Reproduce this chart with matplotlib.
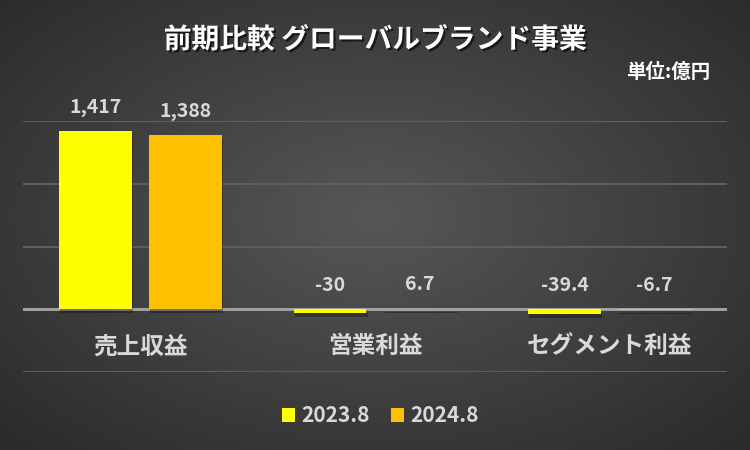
import numpy as np
import matplotlib
matplotlib.use("Agg")
import matplotlib.pyplot as plt
import matplotlib.patheffects as pe

plt.rcParams['font.family'] = ['Noto Sans CJK JP', 'DejaVu Sans']

# data
categories = ['売上収益', '営業利益', 'セグメント利益']
series_names = ['2023.8', '2024.8']
values_2023 = [1417, -30, -39.4]
values_2024 = [1388, 6.7, -6.7]
value_labels_2023 = ['1,417', '-30', '-39.4']
value_labels_2024 = ['1,388', '6.7', '-6.7']

YELLOW = '#FFFF00'
ORANGE = '#FFC000'
TEXT = '#D9D9D9'

fig = plt.figure(figsize=(7.5, 4.5), dpi=100)

# radial gradient background
bg = fig.add_axes([0, 0, 1, 1], zorder=-10)
gx, gy = np.meshgrid(np.linspace(0, 1, 375), np.linspace(0, 1, 225))
d = np.sqrt(((gx - 0.5) / 0.5) ** 2 + ((gy - 0.52) / 0.52) ** 2) / np.sqrt(2)
d = np.clip(d, 0, 1)
c_in, c_out = 0x57 / 255, 0x2a / 255
shade = c_in + (c_out - c_in) * d
bg.imshow(np.dstack([shade, shade, shade]), extent=[0, 1, 0, 1], aspect='auto', origin='lower')
bg.axis('off')

ax = fig.add_axes([0.031, 0.173, 0.938, 0.558])
ax.set_facecolor('none')

x = np.arange(len(categories))
w = 0.311
off = 0.192
shadow = [pe.SimplePatchShadow(offset=(1, -2.5), shadow_rgbFace='black', alpha=0.3), pe.Normal()]
b1 = ax.bar(x - off, values_2023, w, color=YELLOW, label=series_names[0], zorder=3, path_effects=shadow)
b2 = ax.bar(x + off, values_2024, w, color=ORANGE, label=series_names[1], zorder=3, path_effects=shadow)

for bars, labels in ((b1, value_labels_2023), (b2, value_labels_2024)):
    for rect, lab in zip(bars, labels):
        top = max(rect.get_y() + rect.get_height(), rect.get_y(), 0)
        ax.annotate(lab, (rect.get_x() + rect.get_width() / 2, top),
                    xytext=(0, 17), textcoords='offset points',
                    ha='center', va='center', fontsize=14, fontweight='bold', color=TEXT)

ax.set_xlim(-0.5, 2.5)
ax.set_ylim(-500, 1500)
ax.set_yticks([-500, 0, 500, 1000, 1500])
ax.yaxis.grid(True, color='#5E5E5E', linewidth=1.5, zorder=0)
ax.axhline(0, color='#A6A6A6', linewidth=2, zorder=2)
ax.tick_params(left=False, bottom=False, labelleft=False, labelbottom=False)
for s in ax.spines.values():
    s.set_visible(False)

for xi, cat in zip(x, categories):
    ax.text(xi, -295, cat, ha='center', va='center', fontsize=17, fontweight='bold', color=TEXT)

fig.text(0.5, 0.911, '前期比較 グローバルブランド事業', ha='center', va='center',
         fontsize=20, fontweight='bold', color='white',
         path_effects=[pe.withSimplePatchShadow(offset=(1.5, -1.5), shadow_rgbFace='black', alpha=0.6)])
fig.text(0.947, 0.838, '単位:億円', ha='right', va='center', fontsize=14, fontweight='bold', color='white')

leg = fig.legend(handles=[b1, b2], loc='center', bbox_to_anchor=(0.507, 0.076), ncol=2,
                 frameon=False, fontsize=15, handlelength=0.65, handleheight=0.65,
                 handletextpad=0.3, columnspacing=1.0)
for t in leg.get_texts():
    t.set_color(TEXT)
    t.set_fontweight('bold')
for h in leg.legend_handles:
    h.set_path_effects([])

fig.savefig('out.png', dpi=100)
